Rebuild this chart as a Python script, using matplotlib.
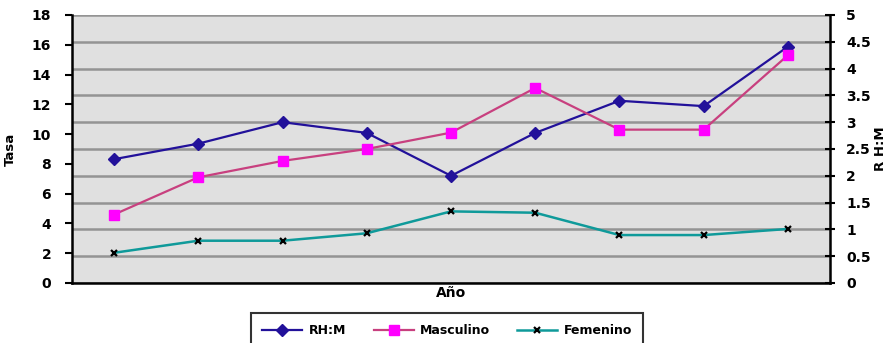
import matplotlib.pyplot as plt
import numpy as np

# series values, one per year (no year labels shown on the axis)
n_years = 9
rhm = [2.31, 2.60, 3.00, 2.80, 2.00, 2.80, 3.40, 3.30, 4.41]
masculino = [4.6, 7.1, 8.2, 9.0, 10.1, 13.1, 10.3, 10.3, 15.3]
femenino = [2.03, 2.84, 2.84, 3.34, 4.81, 4.72, 3.22, 3.22, 3.63]

left_ticks = np.arange(0, 19, 2)
right_ticks = np.arange(0, 5.01, 0.5)

plt.rcParams['font.family'] = 'DejaVu Sans'
plt.rcParams['font.weight'] = 'bold'

fig = plt.figure(figsize=(8.91, 3.43), dpi=100)
ax = fig.add_axes([72 / 891, 60 / 343, 758 / 891, 268 / 343])
ax2 = ax.twinx()

# right axis sits underneath and carries the background + gridlines
ax.set_zorder(ax2.get_zorder() + 1)
ax.patch.set_visible(False)
ax2.patch.set_visible(True)
ax2.patch.set_facecolor('#e0e0e0')

x = np.arange(n_years)

l1, = ax2.plot(x, rhm, color='#22119a', lw=1.6, marker='D', ms=6,
               mfc='#22119a', mec='#22119a', label='RH:M')
l2, = ax.plot(x, masculino, color='#c8407f', lw=1.6, marker='s', ms=7.5,
              mfc='#ff00ff', mec='#ff00ff', label='Masculino')
l3, = ax.plot(x, femenino, color='#0f9a9a', lw=1.8, marker='x', ms=4,
              mec='black', mew=1.6, label='Femenino')

ax.set_xlim(-0.5, n_years - 0.5)
ax.set_ylim(0, 18)
ax2.set_ylim(0, 5)
ax.set_yticks(left_ticks)
ax2.set_yticks(right_ticks)
ax2.set_yticklabels(['0', '0.5', '1', '1.5', '2', '2.5', '3', '3.5', '4', '4.5', '5'])
ax.set_xticks([])

ax2.grid(axis='y', color='#949494', lw=1.8)
ax2.set_axisbelow(True)

for a in (ax, ax2):
    for s in a.spines.values():
        s.set_visible(False)
ax.spines['left'].set_visible(True)
ax.spines['bottom'].set_visible(True)
ax2.spines['right'].set_visible(True)
for s in (ax.spines['left'], ax.spines['bottom'], ax2.spines['right']):
    s.set_linewidth(1.8)
    s.set_color('black')
    s.set_zorder(5)

ax.tick_params(axis='y', direction='out', length=5, width=1.5, pad=10,
               labelsize=10)
ax2.tick_params(axis='y', direction='inout', length=7, width=1.5, pad=8,
                labelsize=10)

ax.set_ylabel('Tasa', fontsize=9.5, fontweight='bold', labelpad=11)
ax2.set_ylabel('R H:M', fontsize=9.5, fontweight='bold', labelpad=2)
ax.set_xlabel('Año', fontsize=10, fontweight='bold', labelpad=2)

leg = fig.legend(handles=[l1, l2, l3], loc='upper center',
                 bbox_to_anchor=(0.502, 30 / 343), ncol=3, fontsize=9,
                 frameon=True, fancybox=False, handlelength=3.2,
                 columnspacing=2.2, borderpad=0.9, handletextpad=0.5,
                 borderaxespad=0)
leg.get_frame().set_edgecolor('black')
leg.get_frame().set_linewidth(1.5)

fig.savefig('out.png', dpi=100)
